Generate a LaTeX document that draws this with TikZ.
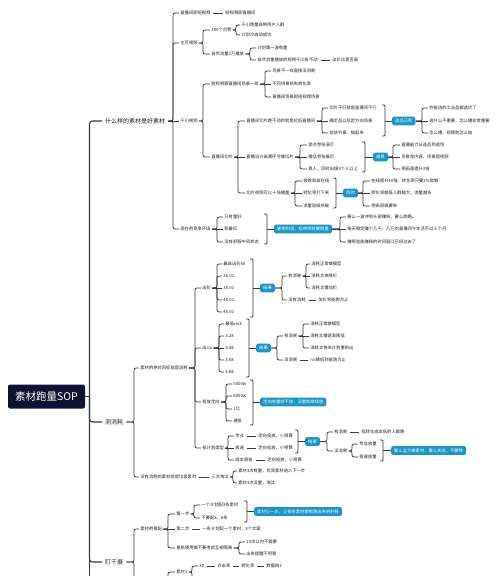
\documentclass[tikz,border=0pt]{standalone}
\usepackage{fontspec}
\setmainfont{Noto Sans CJK SC}
\definecolor{lc}{HTML}{373B47}
\definecolor{bl}{HTML}{1B96C6}
\definecolor{nv}{HTML}{0F1331}
\definecolor{tx}{HTML}{1E1E1E}
\newcommand\lk[3]{\draw[lnk] (#1.east) -- (#1.east -| #3,0) |- (#2.west);}
\newcommand\lks[2]{\draw[lnk] (#1.east) -- (#2.west);}
\newcommand\lkd[2]{\draw[lnk,shorten <=1.5pt,shorten >=1.5pt] (#1.east) -- (#2.west);}
\newcommand\brak[4]{\draw[lnk,rounded corners=1pt] (#1-3,#2) -- (#1,#2) -- (#1,#3) -- (#1-3,#3); \draw[lnk] (#4.west -| #1,0) -- (#4.west);}
\begin{document}
\begin{tikzpicture}[x=1pt,y=-1pt,
  lab/.style={anchor=west, inner xsep=1.2pt, inner ysep=0.5pt, font=\fontsize{4.3}{5}\selectfont, text=tx},
  mainb/.style={anchor=west, inner xsep=3pt, inner ysep=1pt, font=\fontsize{6}{7}\selectfont, text=tx},
  bx/.style={anchor=west, fill=bl, text=white, rounded corners=1.5pt, inner xsep=3pt, inner ysep=2.3pt, font=\fontsize{4.3}{5}\selectfont},
  rootbox/.style={fill=nv, text=white, rounded corners=2pt, minimum width=77pt, minimum height=24pt, font=\fontsize{10.5}{12}\selectfont},
  lnk/.style={draw=lc, line width=0.75pt, rounded corners=2pt},
  spine/.style={draw=lc, line width=1.1pt, rounded corners=3pt}]
\useasboundingbox[fill=white] (0,0) rectangle (500,576);
% root and main branches
\node[rootbox] (root) at (46.5,396.5) {素材跑量SOP};
\node[mainb] (m1) at (102,121) {什么样的素材是好素材};
\node[mainb] (m2) at (102,422) {测消耗};
\node[mainb] (m3) at (102,562) {盯千展};
\coordinate (sp) at (89.5,396.5);
\coordinate (spend) at (89.5,590);
\draw[spine] (root.east) -- (sp);
\draw[spine] (sp) |- (m1.west);
\draw[spine] (sp) |- (m2.west);
\draw[spine] (sp) |- (m3.west);
\draw[spine] (sp) -- (spend);
% ===== branch 1
\node[lab] (a1) at (179,13) {直播间即短视频};
\node[lab] (a1b) at (224,13) {短视频即直播间};
\node[lab] (a2) at (179,43) {主页视频};
\node[lab] (a3) at (179,121) {千川视频};
\node[lab] (a4) at (179,229) {现在的竞争环境};
\lk{m1}{a1}{173} \lkd{a1}{a1b} \lk{m1}{a2}{173} \lks{m1}{a3} \lk{m1}{a4}{173}
\node[lab] (a21) at (210,30) {300个点赞};
\node[lab] (a22) at (210,54) {自然流量2万播放};
\lk{a2}{a21}{203} \lk{a2}{a22}{203}
\node[lab] (a211) at (240,25) {千川跑量自带用户人群};
\node[lab] (a212) at (240,35) {计划冷启动成功};
\lk{a21}{a211}{236} \lk{a21}{a212}{236}
\node[lab] (a221) at (256,48) {计划第一波有量};
\node[lab] (a222) at (256,60) {自然流量播放的视频千川投不动};
\node[lab] (a223) at (331,60) {出价比是否高};
\lk{a22}{a221}{250} \lk{a22}{a222}{250} \lkd{a222}{a223}
\node[lab] (a31) at (210,84) {短视频跟直播间场景一样};
\node[lab] (a32) at (210,157) {直播间切片};
\lk{a3}{a31}{203} \lk{a3}{a32}{203}
\node[lab] (a311) at (271,71) {场景不一样直接没消耗};
\node[lab] (a312) at (271,84) {不同场景损失转化率};
\node[lab] (a313) at (271,97) {直播间场景即短视频场景};
\lk{a31}{a311}{265} \lks{a31}{a312} \lk{a31}{a313}{265}
\node[lab] (b1) at (245,121) {直播间切片跑不动的就是拉低直播间};
\node[lab] (b2) at (245,157) {直播设计高潮环节做切片};
\node[lab] (b3) at (245,193) {切片视频可以十倍播量};
\lk{a32}{b1}{238} \lks{a32}{b2} \lk{a32}{b3}{238}
\node[lab] (b11) at (328,108) {切片不行就是直播间不行};
\node[lab] (b12) at (328,121) {确定品以后定方向场景};
\node[lab] (b13) at (328,133) {拉快节奏、搞起来};
\lk{b1}{b11}{322} \lks{b1}{b12} \lk{b1}{b13}{322}
\node[bx] (x1) at (392,121) {选品已死};
\brak{385}{105}{136}{x1}
\node[lab] (b14) at (428,108) {你能选的工业品都选烂了};
\node[lab] (b15) at (428,121) {选什么不重要，怎么播非常重要};
\node[lab] (b16) at (428,133) {怎么播，视频就怎么拍};
\lk{x1}{b14}{422} \lks{x1}{b15} \lk{x1}{b16}{422}
\node[lab] (c1) at (307,145) {卖点夸张演示};
\node[lab] (c2) at (307,157) {赠品夸张展示};
\node[lab] (c3) at (307,169) {真人，同时出镜3个人以上};
\lk{b2}{c1}{300} \lks{b2}{c2} \lk{b2}{c3}{300}
\node[bx] (x2) at (373,157) {道具};
\brak{365}{142}{172}{x2}
\node[lab] (c4) at (400,145) {直播能力从选品到选场};
\node[lab] (c5) at (400,157) {场景是内容，场景是视频};
\node[lab] (c6) at (400,169) {把画面提升3倍};
\lk{x2}{c4}{393} \lks{x2}{c5} \lk{x2}{c6}{393}
\node[lab] (d1) at (302,181) {极致就高在线};
\node[lab] (d2) at (302,193) {转化率打下来};
\node[lab] (d3) at (302,206) {流量层级突破};
\lk{b3}{d1}{295} \lks{b3}{d2} \lk{b3}{d3}{295}
\node[bx] (x3) at (343,193) {目的};
\brak{336}{178}{208}{x3}
\node[lab] (d4) at (370,181) {在线提升10倍，转化率只要2\%就够};
\node[lab] (d5) at (370,193) {转化率越低人群越大，流量越多};
\node[lab] (d6) at (370,206) {把高层级要来};
\lk{x3}{d4}{363} \lks{x3}{d5} \lk{x3}{d6}{363}
\node[lab] (e1) at (223,217) {只有量好};
\node[lab] (e2) at (223,229) {和最红};
\node[lab] (e3) at (223,242) {没有舒服中间状态};
\lk{a4}{e1}{217} \lks{a4}{e2} \lk{a4}{e3}{217}
\node[bx] (x4) at (274,229) {要跑利润，短视频就要跑量};
\brak{267}{214}{244}{x4}
\node[lab] (e4) at (346,217) {要么一波冲到头部赚钱，要么跑路。};
\node[lab] (e5) at (346,229) {每天稳定赚个几千，几万的直播间今年活不过三个月};
\node[lab] (e6) at (346,242) {赚那些能赚钱的时间窗口已经过去了};
\lk{x4}{e4}{340} \lks{x4}{e5} \lk{x4}{e6}{340}
% ===== branch 2
\node[lab] (f1) at (139,368) {素材的绝对目标就是消耗};
\node[lab] (f2) at (139,477) {没有消耗的素材就是垃圾素材};
\node[lab] (f2b) at (210,477) {三次淘汰};
\lk{m2}{f1}{134} \lk{m2}{f2}{134} \lkd{f2}{f2b}
\node[lab] (g1) at (201,288) {出价};
\node[lab] (g2) at (201,348) {出roi};
\node[lab] (g3) at (201,402) {投放定向};
\node[lab] (g4) at (201,448) {投计划类型};
\lk{f1}{g1}{195} \lk{f1}{g2}{195} \lk{f1}{g3}{195} \lk{f1}{g4}{195}
\node[lab] (h1) at (222,264) {最高出价50};
\node[lab] (h2) at (222,276) {30.01};
\node[lab] (h3) at (222,288) {35.01};
\node[lab] (h4) at (222,300) {40.01};
\node[lab] (h5) at (222,312) {45.01};
\lk{g1}{h1}{217} \lk{g1}{h2}{217} \lks{g1}{h3} \lk{g1}{h4}{217} \lk{g1}{h5}{217}
\node[bx] (x5) at (260,288) {结果};
\brak{253}{259}{317}{x5}
\node[lab] (h6) at (287,276) {有消耗};
\node[lab] (h7) at (287,300) {没有消耗};
\node[lab] (h8) at (317,300) {加价到能跑为止};
\lk{x5}{h6}{282} \lk{x5}{h7}{282} \lkd{h7}{h8}
\node[lab] (h9) at (310,264) {消耗正常做模型};
\node[lab] (h10) at (310,276) {消耗太快降价};
\node[lab] (h11) at (310,288) {消耗太慢加价};
\lk{h6}{h9}{306} \lks{h6}{h10} \lk{h6}{h11}{306}
\node[lab] (i1) at (224,324) {最低roi3};
\node[lab] (i2) at (224,336) {3.28};
\node[lab] (i3) at (224,348) {3.48};
\node[lab] (i4) at (224,360) {3.68};
\node[lab] (i5) at (224,372) {3.88};
\lk{g2}{i1}{219} \lk{g2}{i2}{219} \lks{g2}{i3} \lk{g2}{i4}{219} \lk{g2}{i5}{219}
\node[bx] (x6) at (256,348) {结果};
\brak{249}{319}{377}{x6}
\node[lab] (i6) at (283,336) {有消耗};
\node[lab] (i7) at (283,360) {没消耗};
\node[lab] (i8) at (309,360) {roi降低到能跑为止};
\lk{x6}{i6}{277} \lk{x6}{i7}{277} \lkd{i7}{i8}
\node[lab] (i9) at (309,324) {消耗正常做模型};
\node[lab] (i10) at (309,336) {消耗太慢逐渐降低};
\node[lab] (i11) at (309,348) {消耗太快关计划重新出};
\lk{i6}{i9}{303} \lks{i6}{i10} \lk{i6}{i11}{303}
\node[lab] (j1) at (232,384) {5000w};
\node[lab] (j2) at (232,396) {8000w};
\node[lab] (j3) at (232,409) {1亿};
\node[lab] (j4) at (232,421) {通投};
\lk{g3}{j1}{226} \lk{g3}{j2}{226} \lk{g3}{j3}{226} \lk{g3}{j4}{226}
\node[bx] (x7) at (260,402) {定向有量就不放，没量就继续放};
\brak{253}{380}{425}{x7}
\node[lab] (k1) at (234,436) {专业};
\node[lab] (k1b) at (257,436) {定向投放，小预算};
\node[lab] (k2) at (234,448) {极速};
\node[lab] (k2b) at (257,448) {定向投放，小预算};
\node[lab] (k3) at (234,460) {成本稳投};
\node[lab] (k3b) at (266,460) {定向投放，小预算};
\lk{g4}{k1}{228} \lks{g4}{k2} \lk{g4}{k3}{228}
\lkd{k1}{k1b} \lkd{k2}{k2b} \lkd{k3}{k3b}
\node[bx] (x8) at (305,441.5) {结果};
\brak{298}{430}{453}{x8}
\node[lab] (k4) at (333,432) {有消耗};
\node[lab] (k5) at (360,432) {找转化成本低的人群跑};
\node[lab] (k6) at (333,451) {没消耗};
\lk{x8}{k4}{327} \lk{x8}{k6}{327} \lkd{k4}{k5}
\node[lab] (k7) at (358,444) {专业放量};
\node[lab] (k8) at (358,457) {极速放量};
\lk{k6}{k7}{352} \lk{k6}{k8}{352}
\node[bx] (x9) at (391,450.5) {要么全力做素材，要么关店，不要熬};
\brak{383}{440}{461}{x9}
\node[lab] (l1) at (237,471) {素材3次有量，优质素材进入下一步};
\node[lab] (l2) at (237,483) {素材3次没量，淘汰};
\lk{f2b}{l1}{233} \lk{f2b}{l2}{233}
% ===== branch 3
\coordinate (m3end) at (134,590);
\node[lab] (n1) at (139,529) {素材的搭配};
\lk{m3}{n1}{134}
\draw[lnk] (m3.east) -- (m3end |- m3.east) -- (m3end);
\node[lab] (o1) at (175,514) {第一步};
\node[lab] (o2) at (175,529) {第二步};
\node[lab] (o2b) at (201,529) {一条计划配一个素材，3个文案};
\node[lab] (o3) at (175,548) {重新使用需不要考虑互相隔离};
\lk{n1}{o1}{168} \lks{n1}{o2} \lk{n1}{o3}{168} \lkd{o2}{o2b}
\node[lab] (p1) at (200,505) {一个计划配3条素材};
\node[lab] (p2) at (200,518) {不要配3、6条};
\lk{o1}{p1}{194} \lk{o1}{p2}{194}
\node[bx] (x10) at (254,511.5) {素材少一点，让每条素材都有跑出来的时候};
\brak{247}{501}{522}{x10}
\node[lab] (p3) at (245,542) {10次以内不需要};
\node[lab] (p4) at (245,554) {出来提醒不用管};
\lk{o3}{p3}{239} \lk{o3}{p4}{239}
\coordinate (q1in) at (168,590);
\node[lab] (q1) at (175,572) {素材1};
\draw[lnk] (q1in) |- (q1.west);
\coordinate (q1out) at (192,590);
\node[lab] (r1) at (198,566) {30};
\node[lab] (r2) at (216,566) {点击率};
\node[lab] (r3) at (240,566) {转化率};
\node[lab] (r4) at (265,566) {数据链1};
\lk{q1}{r1}{192}
\draw[lnk] (q1.east) -- (q1out |- q1.east) -- (q1out);
\lkd{r1}{r2} \lkd{r2}{r3} \lkd{r3}{r4}
\end{tikzpicture}
\end{document}
